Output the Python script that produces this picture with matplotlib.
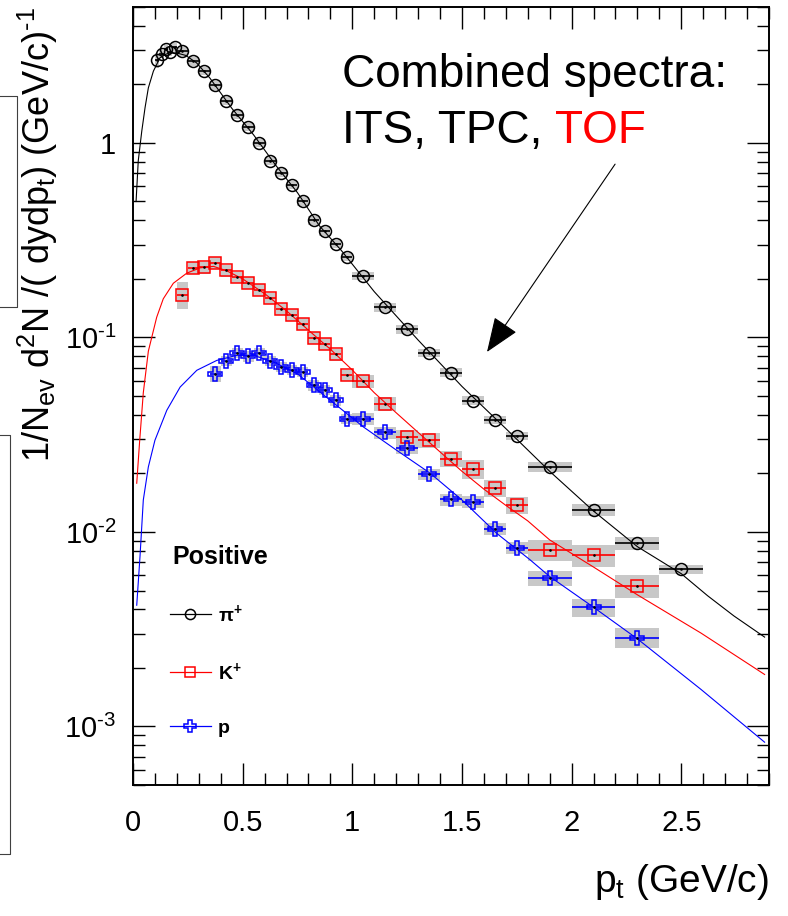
import numpy as np
import matplotlib
matplotlib.use("Agg")
import matplotlib.pyplot as plt
from matplotlib.lines import Line2D
from matplotlib.ticker import LogLocator, FuncFormatter, MultipleLocator, NullFormatter

plt.rcParams["font.family"] = ["Liberation Sans", "DejaVu Sans"]
plt.rcParams["mathtext.default"] = "regular"

# pi+ spectrum
pi_pt = [0.11, 0.13, 0.15, 0.17, 0.19, 0.225, 0.275, 0.325, 0.375, 0.425, 0.475, 0.525, 0.575,
         0.625, 0.675, 0.725, 0.775, 0.825, 0.875, 0.925, 0.975, 1.05, 1.15, 1.25, 1.35, 1.45,
         1.55, 1.65, 1.75, 1.9, 2.1, 2.3, 2.5]
pi_y = [2.67, 2.87, 3.05, 2.94, 3.10, 2.96, 2.63, 2.34, 1.98, 1.64, 1.40, 1.21, 1.00,
        0.81, 0.70, 0.61, 0.50, 0.40, 0.351, 0.302, 0.259, 0.207, 0.143, 0.110, 0.0835, 0.066,
        0.0474, 0.0377, 0.0311, 0.0216, 0.0130, 0.00876, 0.00643]
pi_dx = [0.01] * 5 + [0.025] * 16 + [0.05] * 8 + [0.1] * 4
pi_sys = [0.09] + [0.05] * 28 + [0.055, 0.07, 0.08, 0.055]

# K+ spectrum
k_pt = [0.225, 0.275, 0.325, 0.375, 0.425, 0.475, 0.525, 0.575, 0.625, 0.675, 0.725, 0.775,
        0.825, 0.875, 0.925, 0.975, 1.05, 1.15, 1.25, 1.35, 1.45, 1.55, 1.65, 1.75, 1.9, 2.1, 2.3]
k_y = [0.166, 0.227, 0.229, 0.242, 0.221, 0.204, 0.191, 0.176, 0.159, 0.140, 0.131, 0.117,
       0.0991, 0.0928, 0.0818, 0.0639, 0.0595, 0.0457, 0.0308, 0.0296, 0.0238, 0.0210, 0.0168,
       0.0137, 0.0081, 0.0076, 0.0053]
k_dx = [0.025] * 16 + [0.05] * 8 + [0.1] * 3
k_sys = [0.16] + [0.07] * 15 + [0.08, 0.08, 0.08, 0.09, 0.09, 0.11, 0.1, 0.1] + [0.12, 0.13, 0.135]

# p spectrum
p_pt = [0.375, 0.425, 0.475, 0.525, 0.575, 0.625, 0.675, 0.725, 0.775, 0.825, 0.875, 0.925,
        0.975, 1.05, 1.15, 1.25, 1.35, 1.45, 1.55, 1.65, 1.75, 1.9, 2.1, 2.3]
p_y = [0.0651, 0.0756, 0.0835, 0.0799, 0.0831, 0.0756, 0.0704, 0.0683, 0.0664, 0.0567, 0.0539,
       0.0475, 0.0383, 0.0383, 0.0325, 0.0270, 0.0198, 0.0147, 0.0143, 0.0104, 0.0083, 0.0058,
       0.0041, 0.00286]
p_dx = [0.025] * 13 + [0.05] * 8 + [0.1] * 3
p_sys = [0.09] + [0.06] * 12 + [0.07] * 8 + [0.09, 0.105, 0.12]

# fit curves
pi_fit_pt = [0.014, 0.024, 0.04, 0.055, 0.07, 0.093, 0.123, 0.16, 0.20, 0.24, 0.29, 0.35, 0.45,
             0.55, 0.65, 0.75, 0.85, 0.95, 1.1, 1.3, 1.5, 1.7, 1.9, 2.1, 2.3, 2.5, 2.62, 2.74, 2.88]
pi_fit = [0.50, 0.81, 1.15, 1.52, 1.92, 2.34, 2.74, 2.90, 2.90, 2.82, 2.58, 2.16, 1.51,
          1.10, 0.77, 0.555, 0.375, 0.28, 0.172, 0.097, 0.056, 0.034, 0.0205, 0.0128, 0.0084,
          0.0061, 0.0047, 0.0037, 0.00288]
k_fit_pt = [0.017, 0.03, 0.047, 0.07, 0.108, 0.138, 0.184, 0.245, 0.306, 0.367, 0.428, 0.5, 0.6,
            0.7, 0.8, 0.9, 1.0, 1.1, 1.2, 1.3, 1.4, 1.5, 1.6, 1.7, 1.8, 1.9, 2.1, 2.3, 2.59, 2.88]
k_fit = [0.0178, 0.029, 0.052, 0.085, 0.127, 0.158, 0.19, 0.214, 0.228, 0.232, 0.22, 0.20, 0.168,
         0.137, 0.109, 0.087, 0.068, 0.052, 0.041, 0.0325, 0.0258, 0.0205, 0.0166, 0.0137, 0.0114,
         0.0091, 0.0066, 0.00475, 0.00302, 0.00185]
p_fit_pt = [0.017, 0.032, 0.047, 0.07, 0.1, 0.154, 0.215, 0.291, 0.382, 0.473, 0.55, 0.65, 0.75,
            0.9, 1.05, 1.2, 1.356, 1.5, 1.66, 1.81, 1.9, 2.1, 2.3, 2.59, 2.88]
p_fit = [0.0042, 0.0075, 0.0146, 0.0216, 0.0296, 0.0422, 0.0556, 0.0678, 0.0762, 0.0809, 0.081,
         0.074, 0.065, 0.0475, 0.0347, 0.0264, 0.020, 0.0146, 0.0098, 0.0072, 0.0059, 0.0041,
         0.00282, 0.00155, 0.00083]

species = [
    ("\u03c0$^{+}$", pi_pt, pi_y, pi_dx, pi_sys, pi_fit_pt, pi_fit, "black", "o", 8.6),
    ("K$^{+}$", k_pt, k_y, k_dx, k_sys, k_fit_pt, k_fit, "#ff0000", "s", 8.0),
    ("p", p_pt, p_y, p_dx, p_sys, p_fit_pt, p_fit, "#0000ff", "P", 9.6),
]

fig = plt.figure(figsize=(7.88, 9.16), dpi=100)
ax = fig.add_axes([133 / 788, 1 - 785 / 916, 636 / 788, 778 / 916])

handles = []
for name, pt, y, dx, sys, fpt, fy, col, mk, ms in species:
    pt = np.array(pt)
    y = np.array(y)
    dx = np.array(dx)
    sys = np.array(sys)
    # systematic boxes
    ax.bar(pt, 2 * sys * y, bottom=y * (1 - sys), width=2 * dx, color="#c8c8c8",
           linewidth=0, zorder=1)
    ax.plot(fpt, fy, color=col, lw=0.8, zorder=2)
    ax.errorbar(pt, y, xerr=dx, fmt="none", ecolor=col, elinewidth=1.2, capsize=0, zorder=3)
    ax.plot(pt, y, ls="none", marker=mk, ms=ms, mfc="none", mec=col, mew=1.1, zorder=4)
    ax.plot(pt, y, ls="none", marker=".", ms=1.8, color="black", zorder=5)
    handles.append(Line2D([], [], color=col, lw=0.9, marker=mk, ms=ms * 0.85, mfc="none",
                          mec=col, mew=1.1, label=name))

ax.set_yscale("log")
ax.set_xlim(0, 2.9)
ax.set_ylim(5e-4, 5)

ax.xaxis.set_major_locator(MultipleLocator(0.5))
ax.xaxis.set_minor_locator(MultipleLocator(0.1))
ax.xaxis.set_major_formatter(FuncFormatter(lambda v, p: f"{v:g}"))
ax.yaxis.set_major_locator(LogLocator(base=10, numticks=10))
ax.yaxis.set_minor_locator(LogLocator(base=10, subs=range(2, 10), numticks=20))
ax.yaxis.set_minor_formatter(NullFormatter())


def yfmt(v, pos):
    e = int(round(np.log10(v)))
    if e == 0:
        return "1"
    return f"10$^{{\u2010{abs(e)}}}$"


ax.yaxis.set_major_formatter(FuncFormatter(yfmt))
ax.tick_params(which="both", direction="in", top=True, right=True, width=1.0, labelsize=21)
ax.tick_params(which="major", length=16)
ax.tick_params(which="minor", length=8.5)
ax.tick_params(axis="x", pad=17)
ax.tick_params(axis="y", pad=12)
for s in ax.spines.values():
    s.set_linewidth(1.4)

ax.set_ylabel("1/N$_{ev}$ d$^{2}$N /( dydp$_{t}$) (GeV/c)$^{\u20101}$", fontsize=26, loc="top")
ax.yaxis.set_label_coords(-0.115, 1.0)
ax.set_xlabel("p$_{t}$ (GeV/c)", fontsize=28, loc="right")
ax.xaxis.set_label_coords(1.0, -0.099)

# legend
ax.text(0.0613, 0.293, "Positive", transform=ax.transAxes, fontsize=18, fontweight="bold",
        va="center", ha="left")
ax.legend(handles=handles, loc="upper left", bbox_to_anchor=(0.058, 0.234), frameon=False,
          prop={"weight": "bold", "size": 14}, handlelength=2.1, handletextpad=0.35,
          labelspacing=1.86, borderpad=0, borderaxespad=0, numpoints=1)

# annotation
ax.text(0.3286, 0.897, "Combined spectra:", transform=ax.transAxes, fontsize=33, va="baseline")
t = ax.text(0.3286, 0.825, "ITS, TPC, ", transform=ax.transAxes, fontsize=33, va="baseline")
ax.annotate("TOF", xy=(1, 0), xycoords=t, fontsize=33, color="#ff0000", va="bottom")
ax.annotate("", xy=(0.5566, 0.5566), xycoords="axes fraction", xytext=(0.758, 0.798),
            textcoords="axes fraction",
            arrowprops=dict(arrowstyle="-|>,head_length=1.1,head_width=0.43", mutation_scale=20,
                            color="black", lw=0.8, shrinkA=0, shrinkB=0))

# pieces of neighbouring panels cut at the left edge
for xs, ys in [((0, 17, 17, 0), (96, 96, 307, 307)), ((0, 10, 10, 0), (435, 435, 854, 854))]:
    fig.add_artist(Line2D([x / 788 for x in xs], [1 - y / 916 for y in ys], color="#404040",
                          lw=0.8))

fig.savefig("out.png", dpi=100)
